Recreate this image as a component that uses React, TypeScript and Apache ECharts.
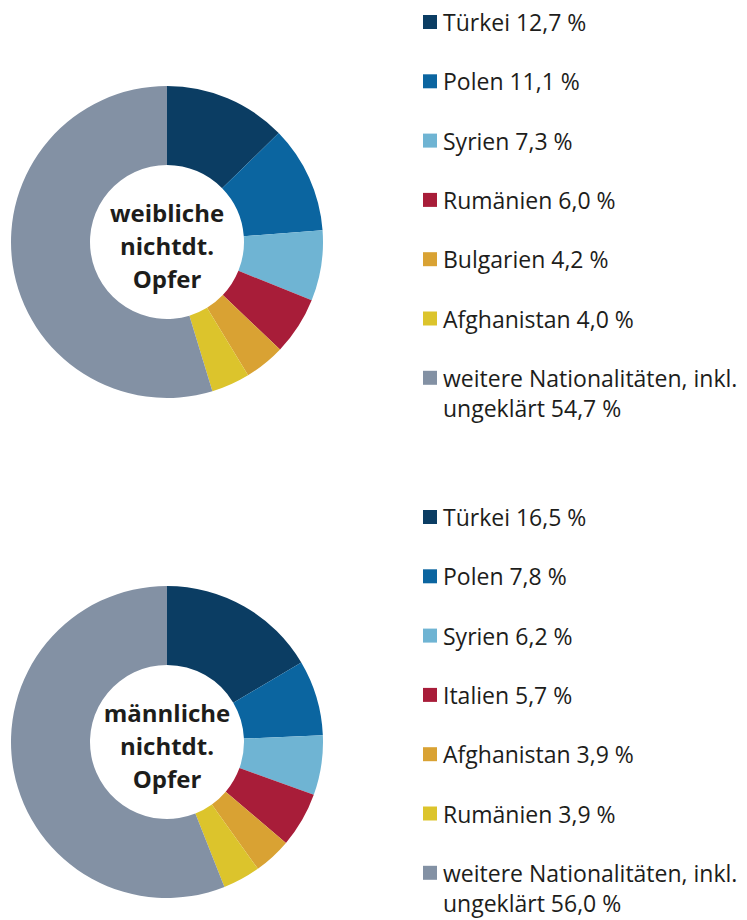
import React, { useEffect, useRef } from "react";
import * as echarts from "echarts";

const femaleCategories = ["Türkei", "Polen", "Syrien", "Rumänien", "Bulgarien", "Afghanistan", "weitere Nationalitäten, inkl.\nungeklärt"];
const femaleValues = [12.7, 11.1, 7.3, 6.0, 4.2, 4.0, 54.7];
const maleCategories = ["Türkei", "Polen", "Syrien", "Italien", "Afghanistan", "Rumänien", "weitere Nationalitäten, inkl.\nungeklärt"];
const maleValues = [16.5, 7.8, 6.2, 5.7, 3.9, 3.9, 56.0];
const colors = ["#0b3d63", "#0b65a0", "#6fb4d3", "#a81d39", "#d9a233", "#dcc42c", "#8391a4"];
const femaleCenterLabel = "weibliche\nnichtdt.\nOpfer";
const maleCenterLabel = "männliche\nnichtdt.\nOpfer";

const FONT = "'Open Sans', 'Noto Sans', sans-serif";
const TEXT = "#1d1d1b";

const fmt = (v: number) => v.toFixed(1).replace(".", ",") + " %";

function legendGraphics(cats: string[], vals: number[], top: number) {
  const els: any[] = [];
  cats.forEach((c, i) => {
    const cy = top + i * 59.3;
    els.push({
      type: "rect",
      shape: { x: 423, y: cy - 7, width: 14, height: 14 },
      style: { fill: colors[i] },
    });
    const lines = (c + " " + fmt(vals[i])).split("\n");
    lines.forEach((ln, j) => {
      els.push({
        type: "text",
        x: 443,
        y: cy + j * 30,
        style: {
          text: ln,
          font: `23px ${FONT}`,
          fill: TEXT,
          lineHeight: 26,
          verticalAlign: "middle",
          align: "left",
        },
      });
    });
  });
  return els;
}

export default function App() {
  const ref = useRef<HTMLDivElement>(null);
  useEffect(() => {
    document.body.style.margin = "0";
    const chart = echarts.init(ref.current!, null, { renderer: "svg" });
    const mkSeries = (cats: string[], vals: number[], cy: number) => ({
      type: "pie",
      center: [167, cy],
      radius: [77, 156],
      startAngle: 90,
      clockwise: true,
      label: { show: false },
      labelLine: { show: false },
      emphasis: { disabled: true },
      itemStyle: { borderWidth: 0 },
      data: cats.map((c, i) => ({ name: c, value: vals[i], itemStyle: { color: colors[i] } })),
    });
    chart.setOption({
      animation: false,
      series: [mkSeries(femaleCategories, femaleValues, 242), mkSeries(maleCategories, maleValues, 742)],
      graphic: [
        ...legendGraphics(femaleCategories, femaleValues, 22),
        ...legendGraphics(maleCategories, maleValues, 517),
        {
          type: "text",
          x: 167,
          y: 245,
          style: { text: femaleCenterLabel, font: `bold 24px ${FONT}`, fill: TEXT, align: "center", verticalAlign: "middle", lineHeight: 33 },
        },
        {
          type: "text",
          x: 167,
          y: 745,
          style: { text: maleCenterLabel, font: `bold 24px ${FONT}`, fill: TEXT, align: "center", verticalAlign: "middle", lineHeight: 33 },
        },
      ],
    });
    return () => chart.dispose();
  }, []);
  return <div ref={ref} style={{ width: 747, height: 920 }} />;
}
